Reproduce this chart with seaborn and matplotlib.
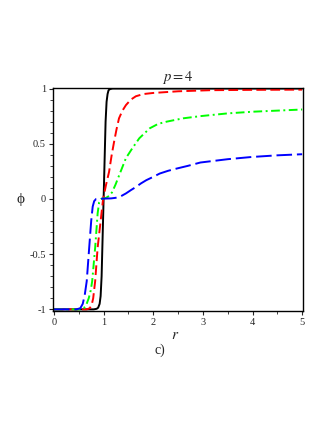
import numpy as np
import seaborn as sns
import pandas as pd
import matplotlib.pyplot as plt
from matplotlib.ticker import MultipleLocator

sns.set_style("white")
plt.rcParams["font.family"] = ["Liberation Serif", "DejaVu Serif"]
plt.rcParams["mathtext.fontset"] = "stix"

# values
r_black = [0, 0.8, 0.86, 0.89, 0.92, 0.94, 0.96, 0.98, 1.0, 1.02, 1.04, 1.06, 1.08, 1.1, 1.13, 1.18, 1.5, 5]
phi_black = [-1, -1, -0.995, -0.985, -0.95, -0.88, -0.7, -0.35, 0, 0.35, 0.7, 0.88, 0.95, 0.985, 0.995, 1, 1, 1]

r_red = [0, 0.66, 0.72, 0.76, 0.79, 0.83, 0.88, 0.92, 0.96, 0.99, 1.05, 1.11, 1.16, 1.21, 1.26, 1.31,
         1.38, 1.45, 1.55, 1.65, 1.8, 2.0, 2.5, 3.15, 4.0, 5.0]
phi_red = [-1, -1, -0.99, -0.96, -0.9, -0.745, -0.44, -0.28, -0.12, 0, 0.13, 0.245, 0.39, 0.515, 0.63, 0.73,
           0.8, 0.85, 0.9, 0.93, 0.95, 0.96, 0.975, 0.985, 0.988, 0.99]

r_green = [0, 0.55, 0.6, 0.65, 0.7, 0.74, 0.77, 0.83, 0.88, 0.91, 0.95, 1.05, 1.12, 1.17, 1.24, 1.31, 1.38,
           1.45, 1.58, 1.72, 1.93, 2.1, 2.27, 2.6, 2.95, 3.5, 4.0, 4.5, 5.0]
phi_green = [-1, -1, -0.99, -0.96, -0.9, -0.83, -0.745, -0.44, -0.13, -0.03, 0, 0.01, 0.03, 0.06, 0.13, 0.21, 0.29,
             0.37, 0.46, 0.55, 0.64, 0.68, 0.70, 0.73, 0.75, 0.775, 0.79, 0.80, 0.81]

r_blue = [0, 0.45, 0.53, 0.58, 0.62, 0.66, 0.71, 0.75, 0.78, 0.81, 0.85, 1.0, 1.15, 1.24, 1.35, 1.45, 1.55,
          1.65, 1.75, 1.86, 2.0, 2.13, 2.3, 2.47, 2.7, 2.95, 3.5, 3.98, 4.5, 5.0]
phi_blue = [-1, -1, -0.99, -0.95, -0.87, -0.745, -0.44, -0.2, -0.07, -0.02, 0, 0.003, 0.005, 0.01, 0.025, 0.05, 0.08,
            0.108, 0.14, 0.17, 0.2, 0.23, 0.255, 0.275, 0.3, 0.33, 0.36, 0.38, 0.395, 0.405]

fig = plt.figure(figsize=(3.27, 4.23), dpi=100)
ax = fig.add_axes([0.162, 0.265, 0.765, 0.527])

curves = [
    (r_black, phi_black, "black", "-"),
    (r_red, phi_red, "red", (0, (5, 2.2))),
    (r_green, phi_green, "#00ff00", (0, (4.5, 1.8, 1, 1.8))),
    (r_blue, phi_blue, "blue", (0, (8, 2.5))),
]
for r, phi, col, ls in curves:
    df = pd.DataFrame({"r": r, "phi": phi})
    sns.lineplot(data=df, x="r", y="phi", color=col, linestyle=ls, linewidth=1.4,
                 sort=False, estimator=None, ax=ax)

ax.set_xlim(-0.02, 5.02)
ax.set_ylim(-1.014, 1.005)
ax.set_xticks([0, 1, 2, 3, 4, 5])
ax.set_yticks([-1, -0.5, 0, 0.5, 1])
ax.set_yticklabels(["-1", "-0.5", "0", "0.5", "1"])
ax.xaxis.set_minor_locator(MultipleLocator(0.5))
ax.yaxis.set_minor_locator(MultipleLocator(0.1))
ax.tick_params(which="major", direction="out", length=3, width=0.8, labelsize=7.5, pad=2,
               bottom=True, left=True)
ax.tick_params(which="minor", direction="out", length=2, width=0.6, bottom=True, left=True)
for s in ax.spines.values():
    s.set_color("black")
    s.set_linewidth(1.0)

ax.set_title("$p = 4$", fontsize=10.5, pad=5)
ax.set_xlabel("$r$", fontsize=11)
ax.xaxis.set_label_coords(0.49, -0.08)
ax.set_ylabel("ϕ", fontsize=11, rotation=0, va="center", ha="center")
ax.yaxis.set_label_coords(-0.128, 0.5)
fig.text(0.49, 0.172, "c)", ha="center", va="center", fontsize=10)

fig.savefig("out.png", dpi=100)
